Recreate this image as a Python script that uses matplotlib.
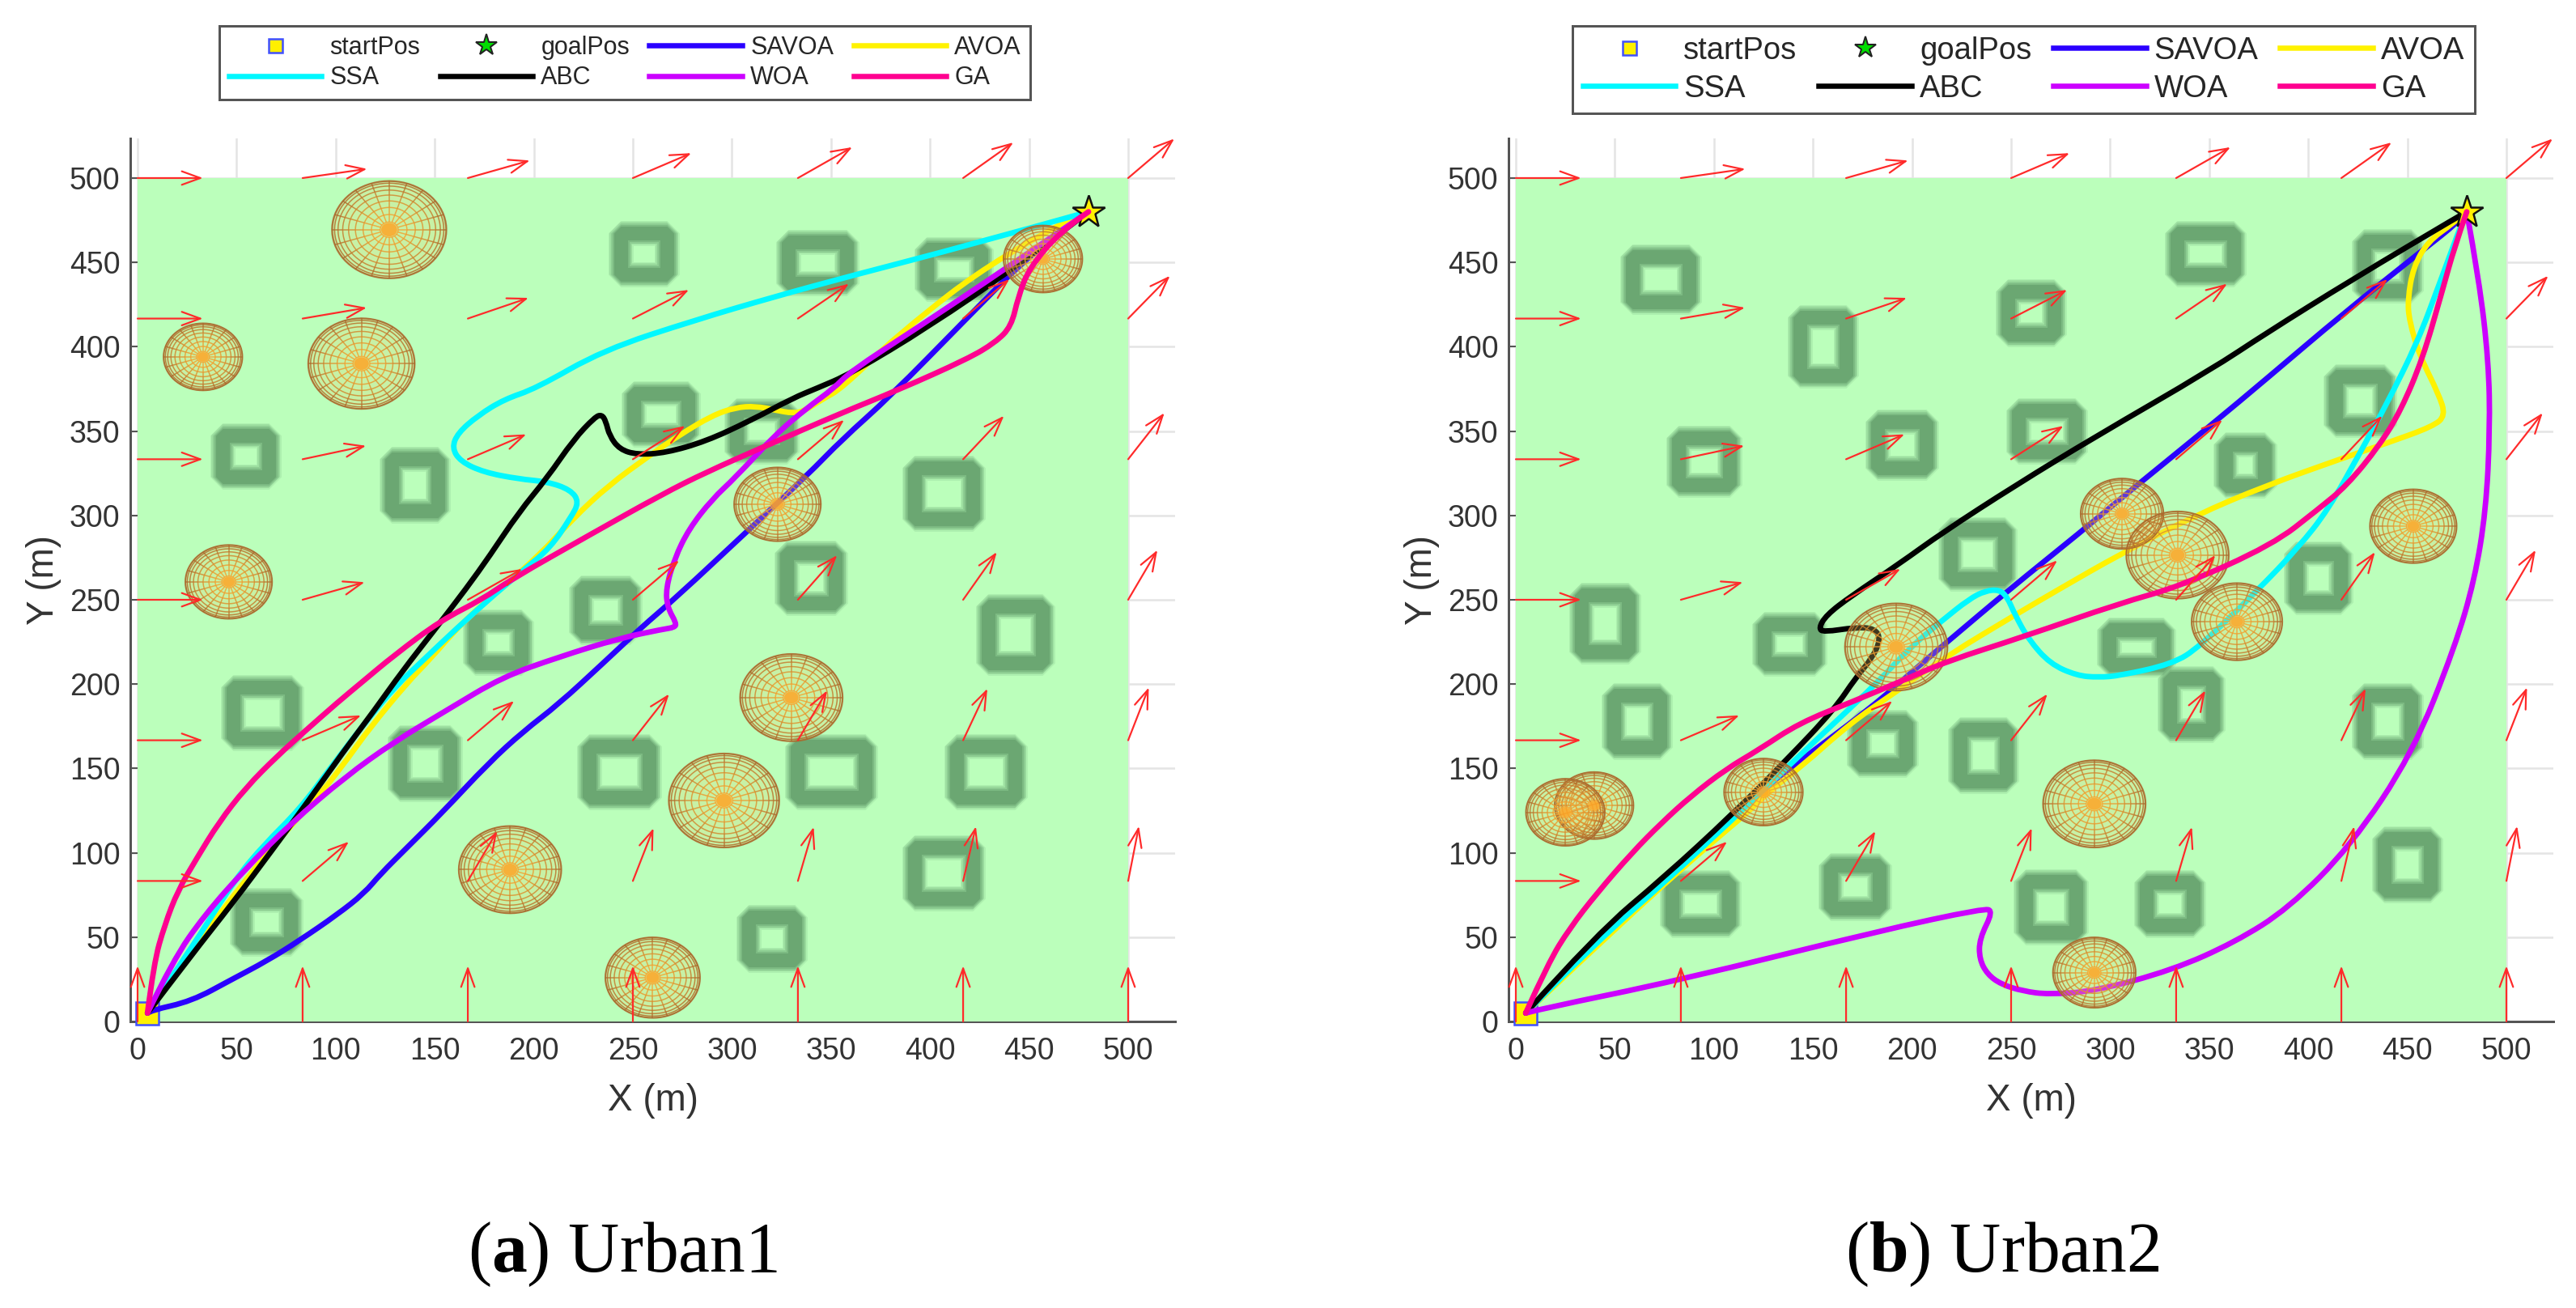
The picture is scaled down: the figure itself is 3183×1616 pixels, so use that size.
import numpy as np
import matplotlib
matplotlib.use('Agg')
import matplotlib.pyplot as plt
from matplotlib.lines import Line2D
from matplotlib.patches import Rectangle, Circle, PathPatch
from matplotlib.path import Path
from matplotlib.collections import LineCollection

plt.rcParams['font.family'] = ['Liberation Sans', 'DejaVu Sans']
plt.rcParams['mathtext.fontset'] = 'custom'
plt.rcParams['mathtext.bf'] = 'Liberation Serif:bold'
plt.rcParams['mathtext.rm'] = 'Liberation Serif'

# ---------- shared data ----------
ticks = [0, 50, 100, 150, 200, 250, 300, 350, 400, 450, 500]
start_pos = (5, 5)
goal_pos = (480, 480)
series_names = ['SAVOA', 'AVOA', 'SSA', 'ABC', 'WOA', 'GA']
series_colors = ['#2A00FF', '#FFF200', '#00F8FF', '#000000', '#CC00FF', '#FF0090']

wind_x = [0, 83.3, 166.7, 250, 333.3, 416.7, 500]
wind_y = [0, 83.3, 166.7, 250, 333.3, 416.7, 500]
wind_len = 33
# direction of the arrow in degrees, one row per wind_y value
wind_angle = [
    [90, 90, 90, 90, 90, 90, 90],
    [0, 45, 63.4, 71.6, 76, 78.7, 80.5],
    [0, 26.6, 45, 56.3, 63.4, 68.2, 71.6],
    [0, 18.4, 33.7, 45, 53.1, 59, 63.4],
    [0, 14, 26.6, 36.9, 45, 51.3, 56.3],
    [0, 11.3, 21.8, 31, 38.7, 45, 50.2],
    [0, 9.5, 18.4, 26.6, 33.7, 39.8, 45],
]

# ---------- Urban1 ----------
u1_buildings = [  # cx, cy, w, h
    (255.5, 455, 33, 34), (343, 450, 39, 34), (412, 446, 37, 33), (264, 360, 37, 34),
    (315, 350, 35, 34), (54.5, 335, 33, 34), (140, 318, 33, 40), (407, 313, 39, 40),
    (340, 263, 34, 39), (236, 244, 34, 36), (443, 229.5, 37, 43), (182, 225, 33, 34),
    (63, 183, 39, 40), (145, 153, 35, 40), (243, 148, 40, 40), (350, 148, 44, 40),
    (428, 148, 39, 40), (407, 88, 39, 40), (320, 49, 33, 35), (65, 59, 34, 35),
]
u1_threats = [  # cx, cy, r
    (127, 469.4, 29), (33, 394, 20), (113, 390, 27), (46, 260.6, 22), (323, 306.6, 22),
    (457, 452, 20), (330, 192, 26), (296, 131, 28), (188, 90, 26), (260, 26, 24),
]
u1_savoa_x = [5, 6.8, 27.2, 47.7, 65.4, 81.7, 100.8, 114.4, 122.5, 136.2, 153.9, 177, 194.7, 212.4, 234.6, 253.5, 272.5, 307.5, 338.2, 355.4, 380, 417, 454, 480]
u1_savoa_y = [5, 6.6, 12, 25, 36, 48, 63.4, 76, 87.3, 103.3, 124, 153, 172, 188, 212, 232.8, 252, 290.4, 324, 344.8, 370.7, 415, 459, 480]
u1_avoa_x = [5, 30, 54.5, 74.9, 92.6, 106.2, 117, 136.2, 147, 163.4, 185, 202.5, 220, 237.5, 258, 274, 290, 301.7, 311.9, 322, 330.9, 336.7, 345.5, 355.4, 384, 435, 478]
u1_avoa_y = [5, 46, 84, 113, 135.3, 156, 173.7, 201, 214, 236, 258.4, 276, 298.4, 317.6, 335.2, 348, 359.2, 364, 364.8, 362.4, 360.5, 362, 368.8, 375.2, 407.5, 454, 480]
u1_ssa_x = [5, 27, 49, 64, 81.7, 98, 115.7, 130.7, 144, 161, 180.6, 195.2, 208.3, 218.5, 222.9, 218.5, 206.8, 192.3, 174.7, 163, 158.7, 161.6, 171.8, 185, 201, 235, 282, 321, 360, 419, 480]
u1_ssa_y = [5, 43, 84, 105, 125.7, 151.3, 178.5, 199.3, 214, 233, 253.6, 268, 280.8, 298.4, 308, 315.2, 320, 321.6, 325.6, 332, 340, 348.8, 359.2, 368.8, 375.2, 398, 416, 429.5, 442, 460, 480]
u1_abc_x = [5, 27.2, 47.7, 68, 87, 103.5, 119.8, 133.4, 149.8, 166, 177.7, 192.3, 206.8, 220, 230.9, 234.3, 236.3, 238.2, 243.3, 252, 266.7, 287, 309, 330.9, 342.5, 360, 399.5, 442.5, 480]
u1_abc_y = [5, 39.4, 69.8, 101.7, 132, 159.3, 184.9, 207.3, 232, 256.8, 276, 301.6, 322.4, 344.8, 358.4, 359.7, 356, 347.2, 339.2, 336, 337.1, 344, 356, 369.6, 375.2, 384, 412, 446.6, 480]
u1_woa_x = [5, 17.7, 34, 54.5, 77.6, 104.8, 129.4, 156.6, 183.8, 212.4, 243.3, 265, 271, 272, 267.4, 266.7, 271, 278.3, 290, 301.7, 322, 338.2, 351.3, 360, 392, 438.6, 480]
u1_woa_y = [5, 36, 63.4, 90.5, 117.7, 145, 165.7, 184.9, 204, 216, 227.2, 232.5, 233.6, 236, 245.6, 256.8, 274.4, 292, 309.6, 322.4, 348, 364, 375.2, 385.5, 410, 446.6, 480]
u1_ga_x = [5, 8.2, 13.6, 20.4, 30, 40.9, 54.5, 70.8, 84.4, 100.8, 113, 129.4, 152.9, 174.3, 187.9, 228.7, 265.2, 287, 316.3, 355.4, 384, 419, 433, 441, 444.5, 450, 466, 480]
u1_ga_y = [5, 34.6, 57, 77.8, 97, 117.8, 138.5, 157.7, 172, 189, 200.9, 217, 237.6, 250.5, 261.6, 288.8, 312.8, 325.6, 340.8, 360.8, 374.4, 392.8, 402.6, 412, 429.5, 446.6, 468.7, 480]

# ---------- Urban2 ----------
u2_buildings = [
    (73, 440, 38, 36), (155, 400, 33, 44), (260, 420, 33, 35), (348, 455, 38, 34),
    (440, 448, 33, 39), (426, 368, 34, 38), (95, 332, 35, 37), (195, 342, 34, 37),
    (268, 350, 38, 34), (368, 330, 29, 34), (233, 277, 37, 39), (405, 263, 32, 38),
    (45, 236, 33, 43), (138, 224, 35, 33), (313, 222, 37, 30), (341, 188, 31, 40),
    (440, 178, 33, 40), (61, 178, 33, 40), (185, 165, 33, 35), (236, 158, 33, 40),
    (93, 70, 38, 35), (171, 80, 34, 35), (270, 68, 35, 40), (330, 70, 33, 35), (450, 93, 33, 40),
]
u2_threats = [
    (306, 301, 21), (334, 276.5, 26), (364, 237, 23), (453, 293.6, 22), (192, 222, 26),
    (125, 136, 20), (39.5, 128, 20), (25, 124, 20), (292, 129, 26), (292, 29, 21),
]
u2_savoa_x = [5, 75, 122.5, 141.6, 180, 201.6, 219.3, 248, 286, 305, 351, 378.7, 418, 459, 475.4, 480]
u2_savoa_y = [5, 85.7, 135, 153, 186.5, 209, 226.5, 255, 291, 309.7, 353.6, 380.8, 420, 458.4, 473.6, 480]
u2_avoa_x = [5, 60, 100.8, 115.7, 129.4, 143, 169, 190.7, 218, 252, 273.8, 305, 343, 378.7, 416.8, 440, 463, 469.3, 465.8, 456.3, 451, 450.2, 453, 460.4, 472.7, 480]
u2_avoa_y = [5, 66, 108, 122.5, 138, 150, 177, 194.5, 217, 241, 256, 277, 300, 317.7, 333.7, 343, 352.8, 359.2, 372, 394.4, 415.2, 428, 447.2, 462.4, 472.8, 480]
u2_ssa_x = [5, 40.9, 75, 109, 137.5, 160.7, 182.6, 199, 215.2, 228.9, 237, 243.8, 247.9, 252, 258.8, 269.7, 283.3, 294, 305, 331.5, 345, 374.5, 395, 410, 426.4, 440, 455, 465.8, 478.8, 480]
u2_ssa_y = [5, 47.3, 82.5, 119.3, 151.3, 176.9, 201, 221.7, 237.7, 250.5, 255.3, 256, 252, 241, 226.5, 212, 205, 204, 205, 212, 222, 255.7, 281, 303.3, 337.7, 367, 402.4, 436, 477.6, 480]
u2_abc_x = [5, 40.9, 75, 109, 136.2, 160.7, 171.7, 179.8, 184.2, 181.2, 171.7, 155.3, 152.9, 156.7, 169, 193.5, 215.2, 252, 292, 351, 378.7, 421.4, 477.4, 480]
u2_abc_y = [5, 52, 85.7, 122.5, 154.5, 184.9, 204, 215.3, 226.5, 233, 233.7, 230.8, 233.2, 240.9, 252, 271.3, 289.7, 317.7, 346.3, 386.5, 408, 439.3, 478.4, 480]
u2_woa_x = [5, 12.3, 81.7, 183.8, 236, 241, 234, 234, 238, 245, 256, 269, 292.4, 331.5, 363, 390, 421.4, 452.7, 474, 484, 489.7, 491.7, 491, 486.3, 480]
u2_woa_y = [5, 7.4, 24.2, 53.8, 67, 65.5, 49, 37, 28, 22, 18, 16, 18, 30.5, 47, 67, 104, 159, 222, 262, 303.3, 351.2, 391.2, 439.2, 480]
u2_ga_x = [5, 16.3, 27.2, 40.9, 58.6, 73.5, 88.5, 106.2, 122.5, 143, 170.2, 196, 218, 256, 305, 335.4, 382, 404.6, 419.5, 436, 446.8, 457.7, 467.2, 474, 480]
u2_ga_y = [5, 34.6, 55.3, 76, 100, 117.7, 133.7, 149.7, 161, 176.9, 189.7, 202.5, 213.7, 228, 248, 258, 282.6, 303.3, 317.7, 341.6, 362.4, 392.8, 431.2, 460, 480]

u1_paths = [(u1_savoa_x, u1_savoa_y), (u1_avoa_x, u1_avoa_y), (u1_ssa_x, u1_ssa_y),
            (u1_abc_x, u1_abc_y), (u1_woa_x, u1_woa_y), (u1_ga_x, u1_ga_y)]
u2_paths = [(u2_savoa_x, u2_savoa_y), (u2_avoa_x, u2_avoa_y), (u2_ssa_x, u2_ssa_y),
            (u2_abc_x, u2_abc_y), (u2_woa_x, u2_woa_y), (u2_ga_x, u2_ga_y)]

W, H = 3183, 1616
fig = plt.figure(figsize=(W / 100, H / 100), dpi=100, facecolor='white')


def px(v):
    return v * 72 / 100


def smooth_path(x, y):
    """Quadratic curve with the read points as control points."""
    p = np.column_stack([x, y]).astype(float)
    verts, codes = [p[0]], [Path.MOVETO]
    for i in range(1, len(p) - 1):
        end = p[i + 1] if i == len(p) - 2 else (p[i] + p[i + 1]) / 2
        verts += [p[i], end]
        codes += [Path.CURVE3, Path.CURVE3]
    return Path(verts, codes)


def draw_building(ax, cx, cy, w, h):
    wall = 9.5
    for lw, alpha in ((31, 0.14), (28, 0.18), (25, 0.25), (21, 0.35), (17, 0.55)):
        ax.add_patch(Rectangle((cx - w / 2 + wall / 2, cy - h / 2 + wall / 2), w - wall, h - wall,
                               fill=False, edgecolor='#5E9866', lw=px(lw), alpha=alpha,
                               joinstyle='bevel', zorder=3))


def draw_threat(ax, cx, cy, r):
    inner = np.array([250, 170, 50]) / 255
    outer = np.array([170, 105, 45]) / 255
    ax.add_patch(Circle((cx, cy), r, facecolor='#E8D070', edgecolor='none', alpha=0.28, zorder=4))
    th = np.linspace(0, 2 * np.pi, 73)
    rings = np.sin(np.deg2rad(np.arange(0, 91, 9)))
    segs, cols = [], []
    for k in range(1, len(rings)):
        t = rings[k] ** 2
        col = inner * (1 - t) + outer * t
        segs.append(np.column_stack([cx + r * rings[k] * np.cos(th), cy + r * rings[k] * np.sin(th)]))
        cols.append(col)
    for a in np.deg2rad(np.arange(0, 360, 18)):
        for k in range(1, len(rings) - 1):
            t = rings[k + 1] ** 2
            col = inner * (1 - t) + outer * t
            segs.append(np.array([[cx + r * rings[k] * np.cos(a), cy + r * rings[k] * np.sin(a)],
                                  [cx + r * rings[k + 1] * np.cos(a), cy + r * rings[k + 1] * np.sin(a)]]))
            cols.append(col)
    ax.add_collection(LineCollection(segs, colors=cols, linewidths=px(1.5), alpha=0.85, zorder=4.1))
    ax.add_patch(Circle((cx, cy), r * 0.14, facecolor='#FFA526', edgecolor='none', alpha=0.85, zorder=4.2))


def draw_panel(left_px, buildings, threats, paths, leg_box, leg_font, leg_kw, caption, cap_x):
    ax = fig.add_axes([left_px / W, 1 - 1262 / H, 1291 / W, 1091 / H])
    ax.set_xlim(-3.68, 523.7)
    ax.set_ylim(0, 523.5)
    ax.set_axisbelow(True)
    ax.grid(True, color='#E4E4E4', lw=px(2.5))
    ax.set_xticks(ticks)
    ax.set_yticks(ticks)
    ax.tick_params(direction='in', length=px(11), width=px(2), color='#555555',
                   labelsize=27, labelcolor='#333333')
    ax.tick_params(axis='x', pad=14)
    ax.tick_params(axis='y', pad=9)
    ax.spines['top'].set_visible(False)
    ax.spines['right'].set_visible(False)
    for s in ('left', 'bottom'):
        ax.spines[s].set_color('#555555')
        ax.spines[s].set_linewidth(px(3))
    ax.add_patch(Rectangle((0, 0), 500, 500, facecolor='#BBFFBB', edgecolor='none',
                           clip_on=False, zorder=2.6))
    for b in buildings:
        draw_building(ax, *b)
    for t in threats:
        draw_threat(ax, *t)

    ax.plot([start_pos[0]], [start_pos[1]], 's', ms=px(28), mfc='#FFF000', mec='#4050FF', mew=px(2.5),
            zorder=3.4, clip_on=False)
    for (x, y), c, n in zip(paths, series_colors, series_names):
        ax.add_patch(PathPatch(smooth_path(x, y), fill=False, edgecolor=c, lw=px(6.8),
                               joinstyle='round', capstyle='round',
                               zorder=5 if n == 'GA' else 3.5, label=n))
    ax.plot([goal_pos[0]], [goal_pos[1]], '*', ms=px(42), mfc='#FFF000', mec='#111111', mew=px(2.5), zorder=4.9)

    for j, wy in enumerate(wind_y):
        for i, wx in enumerate(wind_x):
            a = np.deg2rad(wind_angle[j][i])
            ax.annotate('', xy=(wx + wind_len * np.cos(a), wy + wind_len * np.sin(a)), xytext=(wx, wy),
                        arrowprops=dict(arrowstyle='->,head_length=1.65,head_width=0.6', color='#FF2A2A',
                                        lw=px(2.2), shrinkA=0, shrinkB=0, mutation_scale=10),
                        annotation_clip=False, zorder=7)

    ax.set_xlabel('X (m)', fontsize=33, color='#333333', labelpad=15)
    ax.set_ylabel('Y (m)', fontsize=33, color='#333333', labelpad=7)

    handles = [
        Line2D([], [], ls='none', marker='s', ms=px(17), mfc='#FFF000', mec='#4050FF', mew=px(2.5)),
        Line2D([], [], ls='none', marker='*', ms=px(28), mfc='#00DD00', mec='#222222', mew=px(2)),
    ] + [Line2D([], [], color=c, lw=px(6.5)) for c in series_colors]
    labels = ['startPos', 'goalPos'] + series_names
    # legend reads row by row in the reference; matplotlib fills by column
    order = [0, 4, 1, 5, 2, 6, 3, 7]
    leg = ax.legend([handles[i] for i in order], [labels[i] for i in order], ncol=4,
                    loc='upper left', bbox_to_anchor=(leg_box[0] / W, 1 - leg_box[1] / H),
                    bbox_transform=fig.transFigure, borderaxespad=0, fontsize=leg_font,
                    fancybox=False, framealpha=1, edgecolor='#555555', numpoints=1, **leg_kw)
    leg.get_frame().set_linewidth(px(3))
    for t in leg.get_texts():
        t.set_color('#262626')
    leg.set_zorder(10)

    fig.text(cap_x / W, 1 - 1550 / H, caption, fontsize=63, ha='center', va='center',
             family='Liberation Serif', color='black')
    return ax


draw_panel(161, u1_buildings, u1_threats, u1_paths, (271, 32), 22,
           dict(handlelength=3.75, handletextpad=0.33, columnspacing=0.8, labelspacing=0.25,
                borderpad=0.38, handleheight=0.7),
           r'($\mathbf{a}$) Urban1', 770)
draw_panel(1864, u2_buildings, u2_threats, u2_paths, (1943, 32), 27.5,
           dict(handlelength=3.0, handletextpad=0.265, columnspacing=0.7, labelspacing=0.29,
                borderpad=0.33, handleheight=0.7),
           r'($\mathbf{b}$) Urban2', 2474)

fig.savefig('out.png', dpi=100)
